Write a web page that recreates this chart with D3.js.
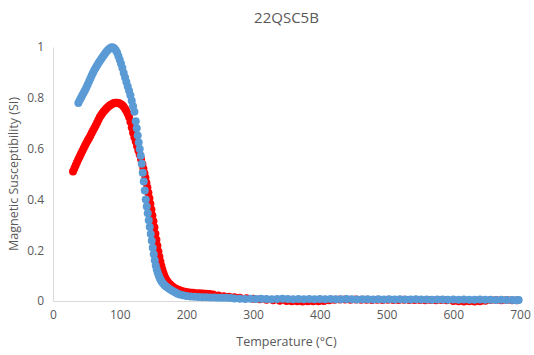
<!DOCTYPE html>
<html>
<head>
<meta charset="utf-8">
<script src="https://cdn.jsdelivr.net/npm/d3@7"></script>
<style>
  body { margin: 0; background: #fff; }
  text { font-family: "Open Sans", "Liberation Sans", sans-serif; fill: #595959; }
</style>
</head>
<body>
<svg id="chart"></svg>
<script>
// Данные (температура °C, восприимчивость)
const chartTitle = "22QSC5B"
const xTicks = [0, 100, 200, 300, 400, 500, 600, 700]
const yTicks = [0, 0.2, 0.4, 0.6, 0.8, 1]

// нагрев (красный)
const redT = [30,32,34,36,38,40,42,44,46,48,50,52,54,56,58,60,62,64,66,68,70,72,74,76,78,80,82,84,86,88,90,92,94,96,98,100,102,104,106,108,110,112,114,116,118,120,122,124,126,128,130,132,134,135.5,137,138.5,140,141.5,143,144.5,146,147.5,149,150.5,152,153.5,155,156.5,158,159.5,161,162.5,164,165.5,167,168.5,170,172,174,176,178,180,183,186,189,192,196,200,205,210,215,220,225,230,235,240,248,256,264,272,280,290,300,310,320,330,340,350,358,366,374,382,390,398,406,414,422,430,438,446,454,462,470,478,486,494,502,510,518,526,534,542,550,558,566,574,582,590,600,608,616,624,632,640,648,656,664,672,680,688,696]
const redK = [0.510,0.522,0.534,0.546,0.558,0.569,0.580,0.591,0.601,0.612,0.622,0.632,0.641,0.651,0.661,0.671,0.681,0.691,0.702,0.713,0.723,0.731,0.739,0.746,0.752,0.758,0.763,0.768,0.772,0.775,0.778,0.780,0.781,0.781,0.780,0.778,0.775,0.771,0.765,0.757,0.748,0.737,0.724,0.706,0.683,0.662,0.645,0.628,0.610,0.593,0.576,0.558,0.538,0.521,0.503,0.485,0.466,0.447,0.426,0.405,0.383,0.360,0.337,0.314,0.290,0.265,0.241,0.218,0.195,0.174,0.155,0.138,0.123,0.110,0.099,0.090,0.083,0.076,0.069,0.064,0.059,0.055,0.050,0.046,0.043,0.040,0.037,0.035,0.033,0.032,0.031,0.031,0.030,0.029,0.028,0.026,0.022,0.019,0.017,0.015,0.013,0.011,0.009,0.007,0.005,0.003,0.001,0.000,-0.001,-0.001,-0.002,-0.001,-0.001,-0.001,0.000,0.003,0.005,0.006,0.006,0.005,0.006,0.005,0.005,0.004,0.005,0.004,0.005,0.004,0.004,0.005,0.004,0.004,0.004,0.003,0.004,0.003,0.004,0.003,0.000,-0.001,-0.002,-0.001,-0.002,-0.001,0.001,0.004,0.004,0.003,0.004,0.003,0.003,0.003]

// охлаждение (синий)
const blueT = [38,40,42,44,46,48,50,52,54,56,58,60,62,64,66,68,70,72,74,76,78,80,82,84,86,88,90,92,94,96,98,100,102,104,106,108,110,112,114,116,118,120,122,124,125.5,127,128.5,130,131.5,133,134.5,136,137.5,139,140.5,142,143.5,145,146.5,148,149.5,151,152.5,154,155.5,157,158.5,160,161.5,163,165,167,169,171,174,177,180,183,186,190,195,200,206,212,218,224,230,236,242,248,254,260,266,272,280,288,296,304,312,320,328,336,344,352,360,368,376,384,392,400,408,416,424,432,440,448,456,464,472,480,488,496,504,512,520,528,536,544,552,560,568,576,584,592,600,608,616,624,632,640,648,656,664,672,680,688,694,698]
const blueK = [0.780,0.790,0.800,0.810,0.820,0.830,0.841,0.852,0.864,0.876,0.888,0.899,0.909,0.918,0.927,0.936,0.944,0.952,0.960,0.967,0.974,0.981,0.987,0.992,0.996,0.999,0.998,0.994,0.987,0.978,0.965,0.950,0.934,0.917,0.898,0.880,0.862,0.844,0.828,0.810,0.788,0.767,0.745,0.708,0.680,0.652,0.624,0.598,0.572,0.540,0.505,0.470,0.435,0.400,0.372,0.345,0.318,0.291,0.264,0.237,0.210,0.184,0.160,0.140,0.124,0.111,0.100,0.091,0.083,0.076,0.069,0.063,0.058,0.054,0.048,0.043,0.038,0.034,0.030,0.026,0.023,0.020,0.018,0.017,0.016,0.015,0.015,0.014,0.014,0.013,0.013,0.013,0.012,0.010,0.009,0.008,0.009,0.008,0.009,0.008,0.007,0.008,0.009,0.008,0.007,0.008,0.007,0.008,0.007,0.008,0.007,0.008,0.007,0.007,0.008,0.007,0.006,0.007,0.007,0.006,0.007,0.006,0.007,0.006,0.007,0.006,0.006,0.007,0.006,0.006,0.005,0.006,0.006,0.005,0.006,0.005,0.006,0.005,0.005,0.006,0.005,0.005,0.004,0.005,0.004,0.004,0.003,0.004,0.004,0.003,0.003]

const width = 534, height = 355
const margin = {left: 53, right: 14, top: 47, bottom: 54}

const svg = d3.select("#chart").attr("width", width).attr("height", height)

const x = d3.scaleLinear().domain([0, 700]).range([margin.left, width - margin.right])
const y = d3.scaleLinear().domain([0, 1]).range([height - margin.bottom, margin.top])

// заголовок
svg.append("text")
  .attr("x", (margin.left + width - margin.right) / 2).attr("y", 23)
  .attr("text-anchor", "middle").attr("font-size", "15px")
  .text(chartTitle)

// оси
const xAxis = svg.append("g")
  .attr("transform", `translate(0,${y(0)})`)
  .call(d3.axisBottom(x).tickValues(xTicks).tickSize(0).tickPadding(9).tickFormat(d3.format("d")))
const yAxis = svg.append("g")
  .attr("transform", `translate(${x(0)},0)`)
  .call(d3.axisLeft(y).tickValues(yTicks).tickSize(0).tickPadding(9).tickFormat(d => d))
;[xAxis, yAxis].forEach(a => {
  a.select(".domain").attr("stroke", "#d9d9d9")
  a.selectAll("text").attr("font-size", "12px").attr("font-family", null)
})

svg.append("text")
  .attr("x", (margin.left + width - margin.right) / 2).attr("y", 346)
  .attr("text-anchor", "middle").attr("font-size", "12.5px")
  .text("Temperature (°C)")
svg.append("text")
  .attr("transform", `translate(18,${(y(0) + y(1)) / 2}) rotate(-90)`)
  .attr("text-anchor", "middle").attr("font-size", "12.5px")
  .text("Magnetic Susceptibility (SI)")

// точки
const series = [
  {t: redT, k: redK, color: "#FF0000"},
  {t: blueT, k: blueK, color: "#5B9BD5"}
]
series.forEach(s => {
  svg.append("g").selectAll("circle")
    .data(s.t.map((t, i) => [t, s.k[i]]))
    .enter().append("circle")
    .attr("cx", d => x(d[0]))
    .attr("cy", d => y(d[1]))
    .attr("r", 4)
    .attr("fill", s.color)
})
</script>
</body>
</html>
